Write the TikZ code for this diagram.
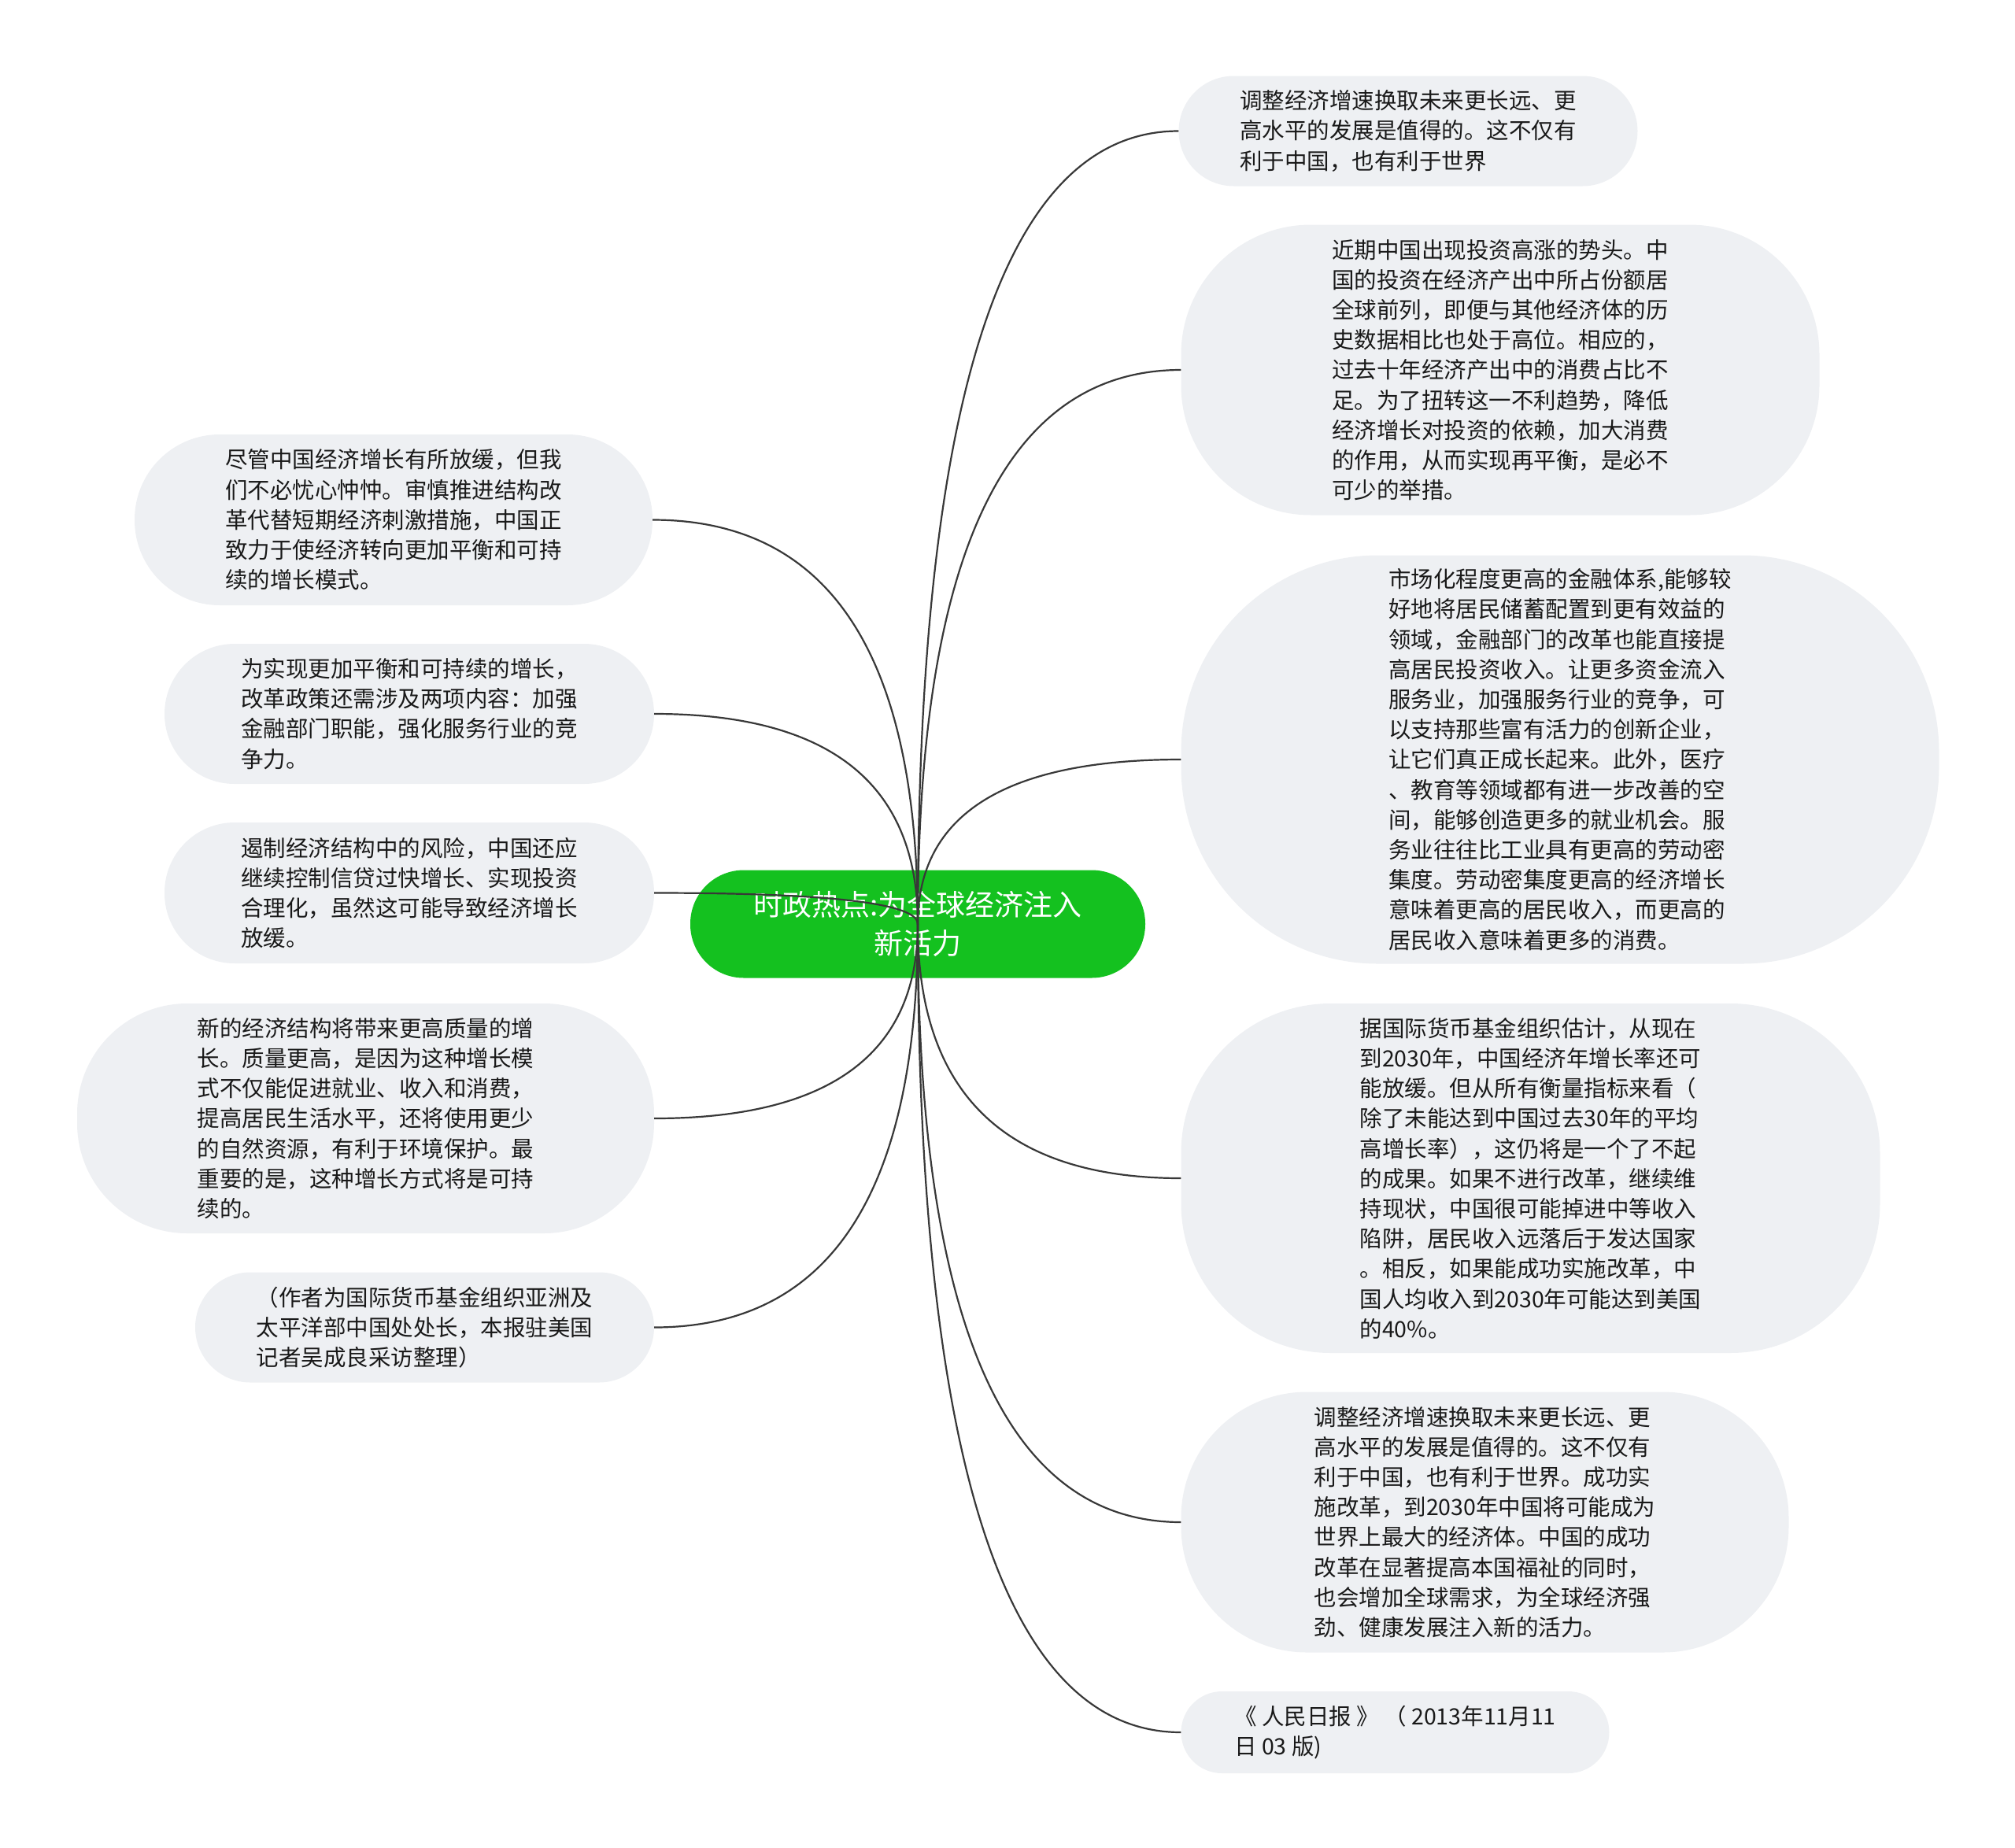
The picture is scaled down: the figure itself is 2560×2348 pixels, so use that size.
\documentclass[tikz,border=0pt]{standalone}
\usepackage{fontspec}
\setmainfont{Noto Sans CJK SC}
\usepackage{xcolor}
\usepackage{tikz}
\usetikzlibrary{calc}
\definecolor{leafgray}{HTML}{EEF0F3}
\definecolor{topicgreen}{HTML}{14C11F}
\definecolor{linkgray}{HTML}{383838}

\begin{document}
\begin{tikzpicture}[x=1pt,y=-1pt,
    topic/.style={fill=topicgreen,text=white,rounded corners=68pt,minimum width=578pt,
      minimum height=137pt,align=center,font=\fontsize{37}{49}\selectfont,inner sep=0pt},
    leaf/.style={fill=leafgray,text=black!90,align=left,
      font=\fontsize{28.5}{38.2}\selectfont,inner sep=0pt},
    link/.style={draw=linkgray,line width=2.2pt},
    branch/.style={to path={.. controls ($(\tikztostart)!.667!(\tikztostart |- \tikztotarget)$)
      and ($(\tikztotarget)!.667!(\tikztostart |- \tikztotarget)$) .. (\tikztotarget)}}
  ]
    \useasboundingbox (0,0) rectangle (2560,2348);
    \node[topic] (topic) at (1166,1174) {时政热点:为全球经济注入\\新活力};
    % right side
    \node[leaf,minimum width=583pt,minimum height=140pt,rounded corners=70pt] (adjust) at (1789,166.5)
      {调整经济增速换取未来更长远、更\\高水平的发展是值得的。这不仅有\\利于中国，也有利于世界};
    \node[leaf,minimum width=811pt,minimum height=369pt,rounded corners=165pt] (invest) at (1906,470)
      {近期中国出现投资高涨的势头。中\\国的投资在经济产出中所占份额居\\全球前列，即便与其他经济体的历\\史数据相比也处于高位。相应的，\\过去十年经济产出中的消费占比不\\足。为了扭转这一不利趋势，降低\\经济增长对投资的依赖，加大消费\\的作用，从而实现再平衡，是必不\\可少的举措。};
    \node[leaf,minimum width=963pt,minimum height=519pt,rounded corners=250pt] (finance) at (1982,965)
      {市场化程度更高的金融体系,能够较\\好地将居民储蓄配置到更有效益的\\领域，金融部门的改革也能直接提\\高居民投资收入。让更多资金流入\\服务业，加强服务行业的竞争，可\\以支持那些富有活力的创新企业，\\让它们真正成长起来。此外，医疗\\、教育等领域都有进一步改善的空\\间，能够创造更多的就业机会。服\\务业往往比工业具有更高的劳动密\\集度。劳动密集度更高的经济增长\\意味着更高的居民收入，而更高的\\居民收入意味着更多的消费。};
    \node[leaf,minimum width=888pt,minimum height=444pt,rounded corners=190pt] (imf) at (1944.5,1497)
      {据国际货币基金组织估计，从现在\\到2030年，中国经济年增长率还可\\能放缓。但从所有衡量指标来看（\\除了未能达到中国过去30年的平均\\高增长率），这仍将是一个了不起\\的成果。如果不进行改革，继续维\\持现状，中国很可能掉进中等收入\\陷阱，居民收入远落后于发达国家\\。相反，如果能成功实施改革，中\\国人均收入到2030年可能达到美国\\的40\%。};
    \node[leaf,minimum width=772pt,minimum height=331pt,rounded corners=160pt] (reform) at (1886.5,1934)
      {调整经济增速换取未来更长远、更\\高水平的发展是值得的。这不仅有\\利于中国，也有利于世界。成功实\\施改革，到2030年中国将可能成为\\世界上最大的经济体。中国的成功\\改革在显著提高本国福祉的同时，\\也会增加全球需求，为全球经济强\\劲、健康发展注入新的活力。};
    \node[leaf,minimum width=544pt,minimum height=104pt,rounded corners=52pt] (source) at (1772.5,2201)
      {《 人民日报 》 （ 2013年11月11\\日 03 版)};
    % left side
    \node[leaf,minimum width=658pt,minimum height=217pt,rounded corners=108pt] (slowdown) at (500,660.5)
      {尽管中国经济增长有所放缓，但我\\们不必忧心忡忡。审慎推进结构改\\革代替短期经济刺激措施，中国正\\致力于使经济转向更加平衡和可持\\续的增长模式。};
    \node[leaf,minimum width=622pt,minimum height=178pt,rounded corners=89pt] (balance) at (520,907)
      {为实现更加平衡和可持续的增长，\\改革政策还需涉及两项内容：加强\\金融部门职能，强化服务行业的竞\\争力。};
    \node[leaf,minimum width=622pt,minimum height=179pt,rounded corners=89pt] (risk) at (520,1134.5)
      {遏制经济结构中的风险，中国还应\\继续控制信贷过快增长、实现投资\\合理化，虽然这可能导致经济增长\\放缓。};
    \node[leaf,minimum width=733pt,minimum height=292pt,rounded corners=140pt] (quality) at (464.5,1421)
      {新的经济结构将带来更高质量的增\\长。质量更高，是因为这种增长模\\式不仅能促进就业、收入和消费，\\提高居民生活水平，还将使用更少\\的自然资源，有利于环境保护。最\\重要的是，这种增长方式将是可持\\续的。};
    \node[leaf,minimum width=583pt,minimum height=140pt,rounded corners=70pt] (author) at (539.5,1686.5)
      {（作者为国际货币基金组织亚洲及\\太平洋部中国处处长，本报驻美国\\记者吴成良采访整理）};
    % connectors
    \draw[link] (topic.center) to[branch] (adjust.west);
    \draw[link] (topic.center) to[branch] (invest.west);
    \draw[link] (topic.center) to[branch] (finance.west);
    \draw[link] (topic.center) to[branch] (imf.west);
    \draw[link] (topic.center) to[branch] (reform.west);
    \draw[link] (topic.center) to[branch] (source.west);
    \draw[link] (topic.center) to[branch] (slowdown.east);
    \draw[link] (topic.center) to[branch] (balance.east);
    \draw[link] (topic.center) to[branch] (risk.east);
    \draw[link] (topic.center) to[branch] (quality.east);
    \draw[link] (topic.center) to[branch] (author.east);
  \end{tikzpicture}
\end{document}
